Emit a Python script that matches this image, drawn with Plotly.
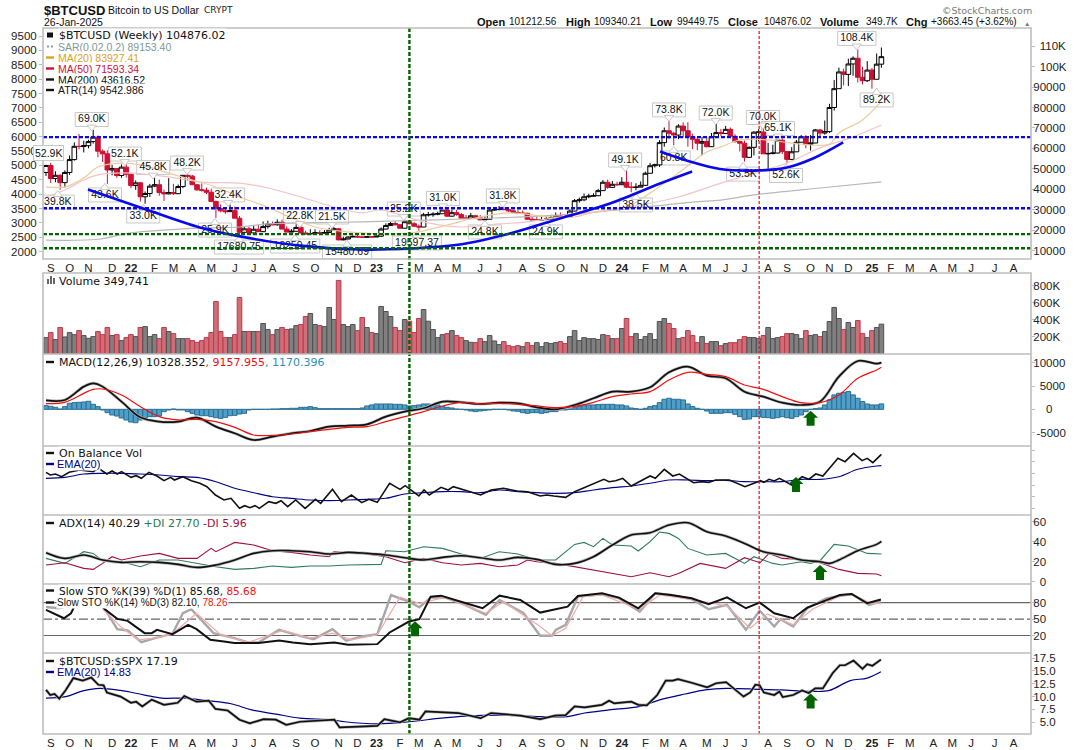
import plotly.graph_objects as go

# --- weekly candles, $K (week 0 ends 2021-09-05, week 177 ends 2025-01-26) ---
opens = [
    48.2,51.6,45.2,46.8,43.2,48.2,54.5,61.0,60.9,61.3,
    63.3,65.5,58.6,57.3,49.4,50.1,46.7,50.8,47.3,41.8,
    43.1,36.3,37.9,41.5,42.2,38.4,37.7,38.4,37.8,41.3,
    46.8,46.4,42.2,39.7,39.5,38.5,34.0,30.5,29.4,29.0,
    29.5,25.8,18.9,20.6,18.6,20.4,19.2,21.7,23.0,22.6,
    23.8,20.5,19.0,19.4,21.3,18.6,18.1,18.3,18.7,18.5,
    18.8,20.0,20.6,15.2,15.6,16.6,16.9,16.6,16.5,16.7,
    16.6,17.0,20.5,22.2,23.2,22.6,20.9,24.1,23.1,21.9,
    21.5,27.5,27.5,27.8,28.0,29.8,26.8,28.5,27.6,25.8,
    25.8,27.0,26.0,25.0,25.3,29.8,30.0,30.1,30.0,29.4,
    28.6,28.2,28.2,25.3,25.0,25.0,25.1,25.4,26.0,26.9,
    26.6,26.5,29.3,34.4,34.8,36.3,36.6,36.8,39.3,43.4,
    40.9,42.4,42.2,43.4,41.0,40.9,41.0,41.9,47.8,51.5,
    51.9,62.8,68.6,67.4,66.5,70.9,68.6,65.7,64.4,62.5,
    63.3,60.8,65.7,67.7,67.3,69.3,65.9,63.3,62.5,55.6,
    60.5,67.9,68.0,57.3,57.5,57.7,64.0,58.4,54.6,58.3,
    63.0,65.7,62.0,62.6,69.0,67.5,68.2,80.0,89.2,97.4,
    96.2,101.3,104.1,94.8,93.1,98.3,93.8,101.2]
highs = [
    52.0,52.9,48.8,47.3,49.2,56.5,62.9,67.0,63.7,64.2,
    69.0,66.3,59.5,59.0,51.9,50.2,52.1,52.1,47.6,44.3,
    43.5,38.9,42.6,45.8,44.7,39.8,45.4,42.6,42.3,46.9,
    48.2,47.0,42.4,42.9,40.8,40.0,34.4,32.6,30.6,32.4,
    31.5,26.9,21.9,21.6,22.5,22.7,24.2,24.6,24.2,25.2,
    25.1,21.8,20.5,22.8,22.8,19.7,20.4,20.4,19.9,20.0,
    21.1,21.5,20.9,16.8,17.0,17.4,18.4,16.9,17.0,16.8,
    17.3,21.3,23.3,23.9,24.2,23.0,25.2,24.5,23.9,22.7,
    28.4,28.9,28.7,29.0,31.0,30.4,29.9,29.9,28.3,27.4,
    28.4,27.4,27.3,26.8,30.9,31.3,31.8,31.5,30.3,30.0,
    29.9,29.6,28.5,26.9,26.6,26.6,26.8,27.4,28.6,28.6,
    27.9,30.2,35.2,35.9,37.9,37.8,38.0,40.2,44.5,44.7,
    44.0,43.7,45.9,49.1,43.5,42.9,43.8,48.6,52.9,52.5,
    64.0,70.2,73.8,68.1,71.8,72.7,72.8,67.2,65.2,65.5,
    65.5,67.5,72.0,69.5,71.0,70.2,66.9,63.9,63.8,60.9,
    68.4,69.4,70.0,62.7,61.8,65.1,65.0,58.7,60.6,64.1,
    66.5,66.5,66.5,69.5,69.5,73.6,81.8,93.4,99.5,99.0,
    103.9,105.0,108.4,99.9,102.7,99.3,106.4,109.34]
lows = [
    46.5,43.0,43.4,39.8,40.8,47.0,54.0,59.5,58.0,60.0,
    62.3,55.6,53.3,42.6,46.8,45.6,45.6,45.7,40.5,39.7,
    34.0,32.9,36.2,41.0,36.8,34.3,37.5,37.2,37.6,40.5,
    44.2,42.0,39.2,38.8,37.6,33.7,25.9,28.7,28.0,28.9,
    25.8,17.6,18.7,18.6,18.5,19.2,19.6,20.7,22.4,22.1,
    20.4,18.9,19.0,19.4,18.3,18.1,18.0,18.3,18.2,18.3,
    18.6,19.9,15.0,15.0,15.5,16.5,16.3,16.3,16.3,16.5,
    16.6,16.6,20.4,22.1,22.3,20.9,20.9,22.8,21.6,19.6,
    21.4,26.6,26.5,27.2,28.0,26.6,26.6,27.0,25.8,25.7,
    25.8,25.9,25.0,24.8,25.3,29.6,29.7,29.9,29.0,28.4,
    28.0,27.9,25.2,24.9,24.9,24.9,25.0,25.3,25.9,26.5,
    26.3,26.5,29.2,33.4,34.1,35.6,36.4,36.7,39.3,40.2,
    40.6,41.6,42.0,40.5,38.5,39.5,41.0,41.6,47.8,50.6,
    50.9,60.8,64.5,61.5,64.5,65.3,60.8,59.6,59.1,56.6,
    60.5,60.7,65.7,66.0,67.2,65.5,62.8,58.5,53.5,55.4,
    56.5,63.5,57.3,49.0,57.0,57.6,57.2,52.6,54.3,58.3,
    63.0,60.0,58.9,62.5,66.0,66.7,67.5,78.5,89.2,90.8,
    90.5,95.5,92.3,91.3,92.5,89.2,93.8,99.45]
closes = [
    51.6,45.2,46.8,43.2,48.2,54.5,61.0,60.9,61.3,63.3,
    65.5,58.6,57.3,49.4,50.1,46.7,50.8,47.3,41.8,43.1,
    36.3,37.9,41.5,42.2,38.4,37.7,38.4,37.8,41.3,46.8,
    46.4,42.2,39.7,39.5,38.5,34.0,30.5,29.4,29.0,29.5,
    25.8,18.9,20.6,18.6,20.4,19.2,21.7,23.0,22.6,23.8,
    20.5,19.0,19.4,21.3,18.6,18.1,18.3,18.7,18.5,18.8,
    20.0,20.6,15.2,15.6,16.6,16.9,16.6,16.5,16.7,16.6,
    17.0,20.5,22.2,23.2,22.6,20.9,24.1,23.1,21.9,21.5,
    27.5,27.5,27.8,28.0,29.8,26.8,28.5,27.6,25.8,25.8,
    27.0,26.0,25.0,25.3,29.8,30.0,30.1,30.0,29.4,28.6,
    28.2,28.2,25.3,25.0,25.0,25.1,25.4,26.0,26.9,26.6,
    26.5,29.3,34.4,34.8,36.3,36.6,36.8,39.3,43.4,40.9,
    42.4,42.2,43.4,41.0,40.9,41.0,41.9,47.8,51.5,51.9,
    62.8,68.6,67.4,66.5,70.9,68.6,65.7,64.4,62.5,63.3,
    60.8,65.7,67.7,67.3,69.3,65.9,63.3,62.5,55.6,60.5,
    67.9,68.0,57.3,57.5,57.7,64.0,58.4,54.6,58.3,63.0,
    65.7,62.0,62.6,69.0,67.5,68.2,80.0,89.2,97.4,96.2,
    101.3,104.1,94.8,93.1,98.3,93.8,101.2,104.876]
weeks = list(range(len(closes)))

# --- overlays on the price panel ---
ma20_x = [0,4,8,11,16,20,26,31,36,41,47,52,57,64,67,74,79,85,91,98,107,112,116,123,128,134,140,143,147,153,158,166,168,173,177]
ma20 = [41.1,41.1,45.5,50.9,52.8,51.9,47.9,44.5,41.1,36.2,31.3,25.9,21.5,19.1,18.6,18.1,19.1,22.5,25.9,28.4,26.4,26.4,28.8,31.3,38.1,47.9,58.2,60.7,64.1,64.1,62.6,62.1,67.5,73.9,83.0]
ma50_x = [0,4,8,11,18,26,33,41,47,54,61,67,71,81,88,96,102,109,116,126,134,143,151,157,164,171,177]
ma50 = [36.2,39.6,44.5,47.0,47.9,46.0,43.5,43.0,40.6,36.2,31.3,28.4,29.8,23.5,21.5,23.0,24.0,26.4,28.8,32.3,36.2,43.0,48.4,52.8,60.2,65.6,71.4]
ma200_x = [0,11,18,33,41,47,54,67,81,95,109,123,137,143,150,164,177]
ma200 = [15.1,15.5,18.6,21.0,21.5,23.0,23.5,24.0,24.9,25.9,27.4,30.3,33.7,34.7,37.2,40.6,43.6]

bowl1_x = [8.9,20.6,32.6,41.1,53.8,66.5,77.1,87.7,98.3,108.9,119.5,130.1,136.9]
bowl1 = [39.9,30.6,21.3,16.9,12.4,10.5,11.0,12.9,18.3,25.7,33.0,42.8,48.7]
bowl2_x = [130.1,136.4,142.8,151.3,157.0,162.5,168.9]
bowl2 = [58.5,53.6,49.9,49.2,50.6,55.0,62.9]

blue_levels = [65.5, 30.7]
green_levels = [18.0, 11.1]
green_vline = 77
red_vline = 151.1

# high/low call-outs
label_text = ["39.8K","69.0K","52.1K","43.6K","45.8K","33.0K","48.2K","32.4K","25.9K","22.8K","21.5K",
              "17680.75","18259.45","15480.69","25.2K","19597.37","31.0K","24.8K","31.8K","24.9K","49.1K",
              "38.5K","73.8K","60.8K","72.0K","70.0K","65.1K","53.5K","52.6K","108.4K","89.2K"]
label_x = [2.5,9.7,16.7,12.5,22.7,20.6,29.9,38.6,35.8,53.8,60.6,40.9,52.8,63.8,75.8,78.6,84.1,93,96.8,105.9,
           122.7,125,132,133,141.9,151.9,155.1,147.7,156.8,171.8,176]
label_y = [33.7,74.1,57.2,37.2,50.6,26.9,52.8,37.2,20,26.9,26.4,11.7,12.2,9.3,30.3,13.7,35.5,19.1,36.7,19.1,
           54.3,32.3,78.8,55.3,77.3,75.1,69.7,47.4,46.7,113.8,83.7]
label_high = [0,1,1,0,1,0,1,1,0,1,1,0,0,0,1,0,1,0,1,0,1,0,1,0,1,1,1,0,0,1,0]

# --- volume, K ---
volume = [
    192,251,169,310,200,251,227,274,216,184,
    204,263,227,310,216,227,157,192,227,204,
    310,321,204,227,180,310,263,239,180,180,
    180,157,137,157,192,251,615,263,192,192,
    227,662,263,263,263,263,357,286,227,286,
    310,286,294,333,345,439,474,345,333,321,
    545,404,862,345,321,345,274,427,310,251,
    239,557,498,439,310,274,404,384,251,416,
    521,384,286,192,227,239,274,216,192,157,
    137,133,180,145,216,153,110,145,98,86,
    98,86,133,98,133,86,133,122,133,145,
    122,204,274,157,192,180,180,169,227,216,
    180,180,298,416,204,239,169,204,239,169,
    380,416,357,298,180,192,274,216,133,204,
    122,145,145,98,122,133,133,169,204,192,
    192,180,216,310,180,192,204,239,239,227,
    180,274,216,227,204,263,380,545,416,286,
    368,310,392,239,192,274,310,350]

# --- MACD ---
macd_x = [0,4,8,10,12,16,20,24,28,32,36,40,44,48,52,56,60,64,68,72,76,80,84,88,92,96,100,104,108,112,116,120,124,128,132,136,140,144,148,152,156,160,164,168,172,176,177]
macd = [1940,2010,4880,5590,4880,1650,-1720,-2650,-2650,-1790,-3730,-5160,-6600,-5880,-5160,-4660,-3730,-3510,-3230,-1580,-500,220,1650,1510,1150,1430,1290,430,0,930,2370,3800,3800,4730,7960,9180,7240,6670,3800,2720,1430,930,1650,7030,10400,9820,10040]
macd_signal = [1220,1510,3440,4300,4370,3080,570,-1580,-2290,-2150,-2650,-3870,-5520,-5590,-5310,-4800,-4300,-3870,-3730,-2650,-1580,-500,720,1510,1150,1290,1080,720,360,650,1510,2720,3300,3800,6310,7960,7530,7030,5230,4300,2720,1430,1430,3080,6670,8460,9030]
macd_hist = [
    790,650,430,70,580,1300,1440,1510,1580,1730,
    1080,580,-140,-720,-1220,-1440,-1870,-2300,-2740,-2880,
    -2300,-1800,-1580,-1580,-1440,-500,-140,70,-140,-140,
    -500,-860,-1220,-1370,-1370,-1580,-1800,-1940,-1730,-1370,
    -1300,-1010,-860,-140,0,0,0,0,70,70,
    140,140,220,220,430,430,580,360,140,140,
    140,140,140,140,140,140,140,290,720,940,
    1150,1150,1150,1150,1080,1080,940,720,790,940,
    1150,1150,940,940,580,430,290,70,0,-140,
    -360,-500,-360,-220,-140,0,0,0,-140,-360,
    -430,-720,-860,-720,-720,-860,-720,-500,-500,-140,
    -140,70,360,580,790,940,940,1010,1080,1080,
    1080,940,940,720,290,140,0,220,580,790,
    1440,2160,2380,2160,2160,2020,1150,580,220,0,
    -360,-860,-860,-860,-720,-720,-1080,-1580,-2160,-2090,
    -1580,-1580,-1730,-1800,-1940,-1800,-1580,-1800,-1940,-1580,
    -1220,-500,0,140,290,940,2020,3100,3460,3600,
    3820,3100,2380,1660,1150,940,940,1170]

# --- on balance volume, unlabelled scale ---
obv_x = [0,.9,2,3.3,4.9,7.1,10,11.1,12.9,14,15.1,16,18,19.1,20.2,21.8,23.5,25,26.4,27.2,29,30.8,32.6,34.1,35.9,37.7,39.2,41,42.1,43.2,44.3,45.2,47.2,48.7,49.8,51.2,52.9,54.9,57.1,58.2,60.7,62.6,64.7,66.9,68.4,70.2,72.8,75,76.1,79,80.1,81.2,83.7,85.2,86.3,89.6,92.1,94.3,96.9,99.8,102,104.7,106.1,107.6,110.1,112,118.2,119.3,120.7,122.2,124,128,129.1,131,132.8,134.2,137.2,139,140.4,141.9,144.8,148.1,151.4,152.1,153.2,154.3,155.4,158,160.2,161.6,163.1,164.6,167.8,169.3,171.1,172.9,174,175.2,177]
obv = [128,120,123,115,128,135,130,140,123,132,123,130,113,118,110,128,117,103,113,105,115,103,95,85,60,45,50,20,28,22,28,20,40,35,43,25,45,20,47,35,77,40,60,37,47,38,95,77,88,57,75,60,83,75,85,70,60,75,80,72,70,57,60,57,53,70,107,100,103,110,87,117,110,137,117,123,97,100,98,105,105,85,103,98,107,102,110,90,115,107,123,117,170,160,185,163,170,157,182]
obv_ema_x = [0,4,8,12,16,20,24,28,32,36,40,44,48,52,56,60,64,68,72,76,80,84,88,92,96,100,104,108,112,116,120,124,128,132,136,140,144,148,152,156,160,164,168,172,176,177]
obv_ema = [110,113,123,125,125,123,120,115,113,100,80,67,55,50,45,43,45,47,50,63,67,70,70,67,75,70,67,65,67,75,82,87,95,105,105,103,104,100,100,100,107,107,115,137,147,148]

# --- ADX ---
adx_x = [0,4,8,12,16,20,24,28,32,36,40,44,48,52,56,60,64,68,72,76,80,84,88,92,96,100,104,108,112,116,120,124,128,132,136,140,144,148,152,156,160,164,166,168,172,176,177]
adx = [29,23.3,26.7,21.7,19.3,20,19.3,17.3,14.3,16.7,21.7,28.3,31,31,30,27.7,29.3,28.3,26.7,24,21.7,24.3,26,24,21.7,24.3,22.3,17.3,18.3,25,36.7,46.7,49,56.7,59,50,45.7,38.3,30,26.7,21.7,20,18.3,21.7,31,37.3,40.3]
plus_di_x = [0,4,8,10,12,16,20,24,28,32,36,40,44,48,52,56,60,64,68,71,72,76,80,84,88,92,96,100,104,108,112,114,116,118,120,124,125.5,128,130,132,134,136,140,144,148,150,152,154,156,160,162,164,167,170,174,177]
plus_di = [23.3,18.3,30,28.3,21,20,15,21.7,21.7,18.3,15,12.3,13.3,15.7,14.3,15.7,15.7,16.7,16.7,17.3,31,30,35,33.3,27.7,23.3,30,27.7,21.7,21.7,37.3,39.3,35,43.3,36.7,35.7,30.7,40,49.7,48.3,43.3,33.3,26.7,28.3,18.3,25,21.7,18.3,16.7,20,18.3,21,37.3,35.7,28.3,27.7]
minus_di_x = [0,4,8,10,12,14,16,20,24,28,32,35,36,40,44,48,52,56,60,61,64,68,72,76,80,84,88,92,96,100,102,104,108,112,116,120,124,128,132,134,136,138.6,144,148,151.3,153.2,156,160,164,168,172,176,177]
minus_di = [16.7,19,13.3,12.3,18.3,25,21.7,25.7,28.3,23.3,23.3,33.3,30,39.3,36.7,31,29.3,26.7,25,30,29,27.7,25,19,23.3,19,16.7,18.3,15,16.7,21.7,20,18.3,15,11.7,8.3,5,9,5,8.3,12.3,18.3,13.3,24,19,28.3,23.3,22.3,19,12.3,8.3,7.7,6]

# --- slow stochastics ---
sto39_x = [0,2.3,3.8,5.3,6,8,10,12.2,15.1,17.3,19.5,20.9,22.4,23.5,26.8,30.1,31.9,34.8,37.7,39.9,45,49.4,52.3,56,61.1,64,70.2,72.8,76.9,79.1,81.5,83.7,87.4,92.5,96.1,100.5,104.7,109,110.5,112.7,117.8,121.4,125.5,129.1,132.4,136.8,140.4,144.3,148.3,151.2,154.3,158.3,161.3,168.2,170.7,174,176.9]
sto39 = [66.7,57.6,51.5,60.6,72.7,92,93,69.7,50.3,46.7,33.3,24.2,24.2,30.3,22.4,39.4,31.5,12.1,9.1,6.1,6.1,10.9,7.3,4.2,7.3,3,4.2,25.5,45.5,49.7,90.9,92.7,83,69.7,92.7,84.8,61.8,70.9,72.7,92.1,97,89.1,69.7,97,93.9,87.9,77,89.7,69.7,80,60.6,51.5,70.9,93.9,95.8,78.8,85.7]
sto14_x = [0,2.7,4.2,6,10,12.2,15.1,17.3,20.2,23.1,26.8,29,30.8,35.5,39.9,42.8,45,49.4,53.8,56.7,60.7,63.6,66.9,70.2,73.1,76.9,79.1,81.5,84.5,88.8,93.2,96.1,101.2,104.7,107.2,108,110.1,112.7,117.8,121.4,125.8,129.1,132.4,136.8,140.4,144.3,148.3,151.2,154.3,155.6,158.3,161.3,165.3,170.7,174.4,176.9]
sto14 = [72,69.7,72.7,95,98,72,31.5,29.1,7.9,15.2,23,60.6,67.9,24.2,15.2,7.3,7.3,30.3,19.4,13.3,31.5,10.3,18.2,22.4,93.9,81.8,71.5,89.1,89.7,75.8,57.6,84.8,60.6,19.4,19.4,30.3,39.4,90.9,95.1,87.9,63.6,97,93.9,86.7,67.9,75.8,30.3,65.5,36.4,49.7,36.4,69.7,87.9,95.8,75.8,82.1]
sto14_d_x = [12.2,15.8,19.5,23.1,26.8,31.9,37,42.8,50.2,56,60.7,64.7,70.2,75,79.1,84.5,93.2,96.9,104.7,107.2,110.1,113.8,117.8,125.8,130,136.8,144.3,149.2,152.8,158.3,162.4,168.2,170.7,174.8,176.9]
sto14_d = [66.7,36.4,12.1,15.2,23,60.6,21.2,7.3,29.1,15.2,24.2,12.1,21.2,89.7,78.8,89.7,60.6,81.8,36.4,19.4,33.3,90.9,93.9,67.9,93.9,86,73.9,33.3,59.4,39.4,67.9,92.1,95.8,78.8,78.3]

# --- BTC / SPX ratio ---
ratio_x = [0,.9,1.8,2.8,4.2,5.8,7.8,9.6,11.1,12.2,12.9,15.8,18,19.1,20.4,22.4,25,27.9,29.3,31.9,34.5,35.9,38.5,41,43.2,46.1,48.7,50.9,53.8,61.1,62.2,70.2,71.7,75,76.9,79.1,80.4,83.7,87.4,92.1,94.3,100.5,104.7,107.9,110.1,112,114.1,117.8,119.3,120.4,124,125.5,127.3,129.5,131.3,132.8,133.9,136.8,140.1,142,144.1,147.8,149.2,150.3,151.2,152.1,154.3,155.4,156.1,158.3,160.2,161.6,163,164.6,166.7,168.2,169.3,171.1,173,174,175.1,176.9]
ratio = [11.3,10.3,10.5,9.6,11.3,13.6,13.1,13.7,12.3,12.2,10.8,10,8.8,9,8.1,9.4,8.4,8.8,10.1,9,9.2,7.6,7.3,5.5,4.8,5.6,5.5,4.5,5.1,5.5,4,4.3,5.6,5,5.8,5.5,7.1,7,6.8,5.8,6.8,6.3,5.6,6.3,6.4,8.1,7.9,8.4,9.2,8.7,9,8.4,8.3,10.3,13.1,13.1,13.4,12.7,11.8,12.6,12.8,10,10.8,12.3,12.2,10.8,10.3,11,9.9,10.3,11.2,10.7,11.6,11.6,14.6,16.1,16.1,17,15.4,16.3,16,17.19]
ratio_ema_x = [0,4.2,7.8,11.4,15.8,20.9,24.6,29.3,34.1,39.2,43.6,48.7,53.8,60.4,63.3,70.2,76.9,83.7,88.8,96.1,104.7,110.5,114.1,119.3,125.8,130.2,135.4,139.7,144.1,151.4,155.8,162.4,166,170.4,174,176.9]
ratio_ema = [9.7,10,11.1,11.6,11.2,10.3,9.7,9.7,9.2,8.6,7.4,6.6,5.8,5.5,5.1,4.7,5.1,5.8,6.2,6.4,6.1,6.1,6.8,7.4,8.1,9.4,10.5,11.3,11.6,11.4,11.3,11,11.2,13.1,13.6,14.83]

# --- axis tick labels ---
month_ticks = [1,5,9,14,18,23,27,31,35,40,44,48,53,57,62,66,70,75,79,83,87,92,96,101,105,109,114,118,122,127,131,135,140,144,148,153,157,162,166,170,175,179,183,188,192,196,201,205]
month_labels = ["S","O","N","D","<b>22</b>","F","M","A","M","J","J","A","S","O","N","D","<b>23</b>","F","M","A","M","J","J","A","S","O","N","D","<b>24</b>","F","M","A","M","J","J","A","S","O","N","D","<b>25</b>","F","M","A","M","J","J","A"]
price_ticks = [10,20,30,40,50,60,70,80,90,100,110]
price_labels = ["10000","20000","30000","40000","50000","60000","70000","80000","90000","\u00a0\u00a0100K","\u00a0\u00a0110K"]
atr_ticks = [2000,2500,3000,3500,4000,4500,5000,5500,6000,6500,7000,7500,8000,8500,9000,9500]
volume_ticks = [200,400,600,800]
volume_labels = ["200K","400K","600K","800K"]
macd_ticks = [-5000,0,5000,10000]
macd_labels = ["\u00a0-5000","\u00a0\u00a0\u00a0\u00a00","\u00a0\u00a05000","10000"]
adx_ticks = [0,20,40,60]
adx_labels = ["\u00a0\u00a00","20","40","60"]
sto_ticks = [20,50,80]
ratio_ticks = [5,7.5,10,12.5,15,17.5]
ratio_labels = ["\u00a0\u00a05.0","\u00a0\u00a07.5","10.0","12.5","15.0","17.5"]

# --- page geometry (pixels) ---
W, H = 1080, 750
LEFT, RIGHT, TOP, BOTTOM = 43, 1031, 28, 734
panels = {"y": (28, 259), "y3": (273, 354), "y4": (354, 446), "y5": (446, 515), "y6": (515, 584), "y7": (584, 653), "y8": (653, 734)}

def px(x):
    return (x - LEFT) / (RIGHT - LEFT)

def py(y):
    return (BOTTOM - y) / (BOTTOM - TOP)

def dom(name):
    a, b = panels[name]
    return [py(b), py(a)]

ARIAL = "Liberation Sans"
DEJA = "DejaVu Sans"
BLACK = "#111111"
RED = "#cc1133"
TAN = "#eccb9c"
PINK = "#f3c3c6"
GREY = "#b8b8b8"
BLUE = "#0808e8"
DKGREEN = "#006400"
NAVY = "#000088"
BORDER = "#bdbdbd"

fig = go.Figure()

def line(x, y, axis, color, width=1.0, xaxis="x", shape="linear"):
    fig.add_trace(go.Scatter(x=x, y=y, mode="lines", xaxis=xaxis, yaxis=axis,
                             line=dict(color=color, width=width, shape=shape),
                             hoverinfo="skip"))

# left hand ATR scale has no visible line, the trace only keeps the axis alive
fig.add_trace(go.Scatter(x=[0, 1], y=atr_ticks[:2], mode="lines", xaxis="x2", yaxis="y2", opacity=0,
                         hoverinfo="skip"))

# price panel
line(ma200_x, ma200, "y", GREY, 1.2, "x2", "spline")
line(ma50_x, ma50, "y", PINK, 1.2, "x2", "spline")
line(ma20_x, ma20, "y", TAN, 1.2, "x2", "spline")
fig.add_trace(go.Candlestick(
    x=weeks, open=opens, high=highs, low=lows, close=closes, xaxis="x2", yaxis="y",
    whiskerwidth=0,
    increasing=dict(line=dict(color="#000000", width=1), fillcolor="#ffffff"),
    decreasing=dict(line=dict(color=RED, width=1), fillcolor=RED),
    hoverinfo="skip"))

# pointer ticks and call-out text sit under the hand drawn curves
ptr_sym = ["triangle-down" if h else "triangle-up" for h in label_high]
ptr_y = [y - 3.7 if h else y + 3.7 for y, h in zip(label_y, label_high)]
fig.add_trace(go.Scatter(x=label_x, y=ptr_y, mode="markers", xaxis="x2", yaxis="y", hoverinfo="skip",
                         marker=dict(symbol=ptr_sym, size=8, color="#ffffff", line=dict(color="#c8c8c8", width=1))))
fig.add_trace(go.Scatter(x=label_x, y=label_y, mode="text", text=label_text, xaxis="x2", yaxis="y", hoverinfo="skip",
                         textposition="middle center", textfont=dict(family=ARIAL, size=10.5, color="#111111")))
line(bowl1_x, bowl1, "y", BLUE, 2.6, "x2", "spline")
line(bowl2_x, bowl2, "y", BLUE, 2.6, "x2", "spline")

# volume
vol_fill = ["#cf6e78" if c < o else "#808080" for o, c in zip(opens, closes)]
vol_edge = ["#c0384a" if c < o else "#505050" for o, c in zip(opens, closes)]
fig.add_trace(go.Bar(x=weeks, y=volume, yaxis="y3", width=0.98, hoverinfo="skip",
                     marker=dict(color=vol_fill, line=dict(color=vol_edge, width=1))))

# macd
fig.add_trace(go.Bar(x=weeks, y=macd_hist, yaxis="y4", width=0.98, hoverinfo="skip",
                     marker=dict(color="#4f9fc8", line=dict(color="#2a6f94", width=1))))
line(macd_x, macd, "y4", GREY, 3.0, "x", "spline")
line(macd_x, macd, "y4", BLACK, 1.7, "x", "spline")
line(macd_x, macd_signal, "y4", "#f01010", 1.2, "x", "spline")

# obv
line(obv_ema_x, obv_ema, "y5", NAVY, 1.1, "x", "spline")
line(obv_x, obv, "y5", BLACK, 1.6)

# adx
line(plus_di_x, plus_di, "y6", "#2e7d5a", 1.1)
line(minus_di_x, minus_di, "y6", "#a01040", 1.1)
line(adx_x, adx, "y6", GREY, 3.0, "x", "spline")
line(adx_x, adx, "y6", BLACK, 1.6, "x", "spline")

# stochastics
line(sto14_x, sto14, "y7", "#a8a8a8", 2.4)
line(sto14_d_x, sto14_d, "y7", "#f2aaaa", 1.2)
line(sto39_x, sto39, "y7", BLACK, 2.0)

# ratio
line(ratio_ema_x, ratio_ema, "y8", NAVY, 1.2, "x", "spline")
line(ratio_x, ratio, "y8", GREY, 3.0)
line(ratio_x, ratio, "y8", BLACK, 1.7)

shapes = []
annos = []

# white call-out boxes under the traces
for t, x, y in zip(label_text, label_x, label_y):
    w = 5.4 * len(t) + 6
    shapes.append(dict(type="rect", xref="x2", yref="y", layer="below", xsizemode="pixel", ysizemode="pixel",
                       xanchor=x, yanchor=y, x0=-w / 2, x1=w / 2, y0=-7, y1=7,
                       line=dict(color="#c8c8c8", width=1), fillcolor="#ffffff"))

# horizontal levels and the two vertical markers
for lv in blue_levels:
    shapes.append(dict(type="line", xref="paper", yref="y", x0=0, x1=1, y0=lv, y1=lv, layer="above",
                       line=dict(color=BLUE, width=2.4, dash="4px,2px")))
for lv in green_levels:
    shapes.append(dict(type="line", xref="paper", yref="y", x0=0, x1=1, y0=lv, y1=lv, layer="above",
                       line=dict(color=DKGREEN, width=2.4, dash="4px,2px")))
for lv, style in zip(sto_ticks, ["solid", "dashdot", "solid"]):
    shapes.append(dict(type="line", xref="paper", yref="y7", x0=0, x1=1, y0=lv, y1=lv, layer="below",
                       line=dict(color="#666666", width=1.2, dash=style)))
shapes.append(dict(type="line", xref="x", yref="paper", x0=green_vline, x1=green_vline, y0=0, y1=1, layer="above",
                   line=dict(color=DKGREEN, width=2.4, dash="4px,2px")))
shapes.append(dict(type="line", xref="x", yref="paper", x0=red_vline, x1=red_vline, y0=0, y1=1, layer="above",
                   line=dict(color="#e01020", width=1.2, dash="3px,2px")))

# panel frames
shapes.append(dict(type="rect", xref="paper", yref="paper", x0=0, x1=1, y0=py(259), y1=py(28), layer="above",
                   line=dict(color=BORDER, width=1.6)))
shapes.append(dict(type="rect", xref="paper", yref="paper", x0=0, x1=1, y0=py(734), y1=py(273), layer="above",
                   line=dict(color=BORDER, width=1.6)))
for y in [354, 446, 515, 584, 653]:
    shapes.append(dict(type="line", xref="paper", yref="paper", x0=0, x1=1, y0=py(y), y1=py(y), layer="above",
                       line=dict(color=BORDER, width=1.6)))

def note(x, y, text, size=11, family=DEJA, color="#111111", bg="rgba(0,0,0,0)", anchor="left"):
    annos.append(dict(xref="paper", yref="paper", x=px(x), y=py(y), text=text, showarrow=False, xanchor=anchor,
                      yanchor="middle", align="left", bgcolor=bg, borderpad=0,
                      font=dict(family=family, size=size, color=color)))

def dash(x, y, color, w=8, thick=2.4):
    shapes.append(dict(type="line", xref="paper", yref="paper", x0=px(x), x1=px(x + w), y0=py(y), y1=py(y),
                       layer="above", line=dict(color=color, width=thick)))

def arrow(i, val, axis):
    # tip at (i, val), head 14 wide, stem 8 wide, 15 tall
    shapes.append(dict(type="path", xref="x", yref=axis, layer="above", xsizemode="pixel", ysizemode="pixel",
                       xanchor=i, yanchor=val, path="M 0 0 L 7.5 -7 L 4 -7 L 4 -15 L -4 -15 L -4 -7 L -7.5 -7 Z",
                       fillcolor=DKGREEN, line=dict(width=0)))

# header
note(43, 10, "<b>$BTCUSD</b>", 13, ARIAL)
note(107, 10, "Bitcoin to US Dollar", 10.5, ARIAL)
note(203, 10, "CRYPT", 9, DEJA, "#222222")
note(43, 22, "26-Jan-2025", 10.5, ARIAL)
note(941, 10, "\u00a9StockCharts.com", 9.5, DEJA, "#777777")
for x, t in zip([476, 564.5, 648.5, 727, 819, 905], ["Open", "High", "Low", "Close", "Volume", "Chg"]):
    note(x, 22, "<b>" + t + "</b>", 11, ARIAL)
for x, t in zip([508, 592.5, 676, 763, 865, 930], ["101212.56", "109340.21", "99449.75", "104876.02", "349.7K", "+3663.45 (+3.62%)"]):
    note(x, 22, t, 10, ARIAL)
note(1023, 23, "\u25b2", 6.5, ARIAL, "#777777")

# the 5500 tick sits under this box in the source, so it has to be an annotation
annos.append(dict(xref="x2", yref="y", x=0.6, y=57.7, text="52.9K", showarrow=False, xanchor="center", yanchor="middle",
                  bgcolor="#ffffff", bordercolor="#c8c8c8", borderwidth=1, borderpad=1,
                  font=dict(family=ARIAL, size=10.5, color="#111111")))

# price legend
note(58, 35, "$BTCUSD (Weekly) 104876.02", 11, DEJA, "#111111", "#ffffff")
note(57, 46.5, "SAR(0.02,0.2) 89153.40", 10.5, ARIAL, "#7d9a96", "#ffffff")
note(57, 57.5, "MA(20) 83927.41", 10.5, ARIAL, "#d9a21f", "#ffffff")
note(57, 68.5, "MA(50) 71593.34", 10.5, ARIAL, "#d0103a", "#ffffff")
note(57, 79.5, "MA(200) 43616.52", 10.5, ARIAL, "#111111", "#ffffff")
note(57, 90, "ATR(14) 9542.986", 10.5, ARIAL, "#111111", "#ffffff")
dash(47, 35, "#111111", 6, 5)
dash(47, 46.5, "#8aa5a0", 2, 2)
dash(51, 46.5, "#8aa5a0", 2, 2)
dash(46, 57.5, "#d9a21f")
dash(46, 68.5, "#d0103a")
dash(46, 79.5, "#111111")
dash(46, 90, "#111111")

# volume legend
note(58, 281, "Volume 349,741", 11)
for x, h in zip([47, 50, 53], [5, 8, 6]):
    shapes.append(dict(type="rect", xref="paper", yref="paper", x0=px(x), x1=px(x + 2), y0=py(284), y1=py(284 - h),
                       layer="above", fillcolor="#666666", line=dict(width=0)))

# macd legend
note(58, 362, 'MACD(12,26,9) 10328.352<span style="color:#f01010">, 9157.955</span><span style="color:#2a8fc0">, 1170.396</span>', 11)
dash(46, 362, "#111111")

# obv legend
note(58, 453, "On Balance Vol", 11, DEJA, "#111111", "#ffffff")
dash(46, 453, "#111111")
note(56, 464, "EMA(20)", 11, ARIAL, NAVY, "#ffffff")
dash(46, 464, NAVY)

# adx legend
note(58, 523, 'ADX(14) 40.29 <span style="color:#1f7a4f">+DI 27.70</span> <span style="color:#a01040">-DI 5.96</span>', 11)
dash(46, 523, "#111111")

# stochastics legend, the lines stay 11 px apart so the boxes do not collide
note(58, 590.5, 'Slow STO %K(39) %D(1) 85.68, <span style="color:#f01010">85.68</span>', 10.5, DEJA, "#111111", "#ffffff")
dash(46, 590.5, "#111111")
note(56, 602.5, 'Slow STO %K(14) %D(3) 82.10, <span style="color:#f01010">78.26</span>', 10, ARIAL, "#111111", "#ffffff")
dash(46, 602.5, "#111111")

# ratio legend
note(58, 661, "$BTCUSD:$SPX 17.19", 11)
dash(46, 661, "#111111")
note(56, 672, "EMA(20) 14.83", 11, ARIAL, NAVY)
dash(46, 672, NAVY)

# buy arrows
arrow(162, -290, "y4")
arrow(158.9, 114, "y5")
arrow(164, 16.7, "y6")
arrow(78.2, 46, "y7")
arrow(162, 10.6, "y8")

tick_font = dict(family=ARIAL, size=11.5, color="#222222")
x_range = [-0.636, 208.7]

def yaxis(name, rng, ticks=None, labels=None):
    cfg = dict(domain=dom(name), range=rng, anchor="x", side="right", showgrid=False, zeroline=False,
               ticks="outside", ticklen=3, tickcolor=BORDER, tickfont=tick_font, fixedrange=True,
               ticklabelstandoff=-4)
    if ticks is None:
        cfg.update(tickvals=[20, 55, 90, 125, 160, 195], showticklabels=False)
    else:
        cfg.update(tickmode="array", tickvals=ticks, ticktext=labels if labels else [str(t) for t in ticks])
    return cfg

layout_axes = dict(
    xaxis=dict(domain=[0, 1], range=x_range, anchor="y8", showgrid=False, zeroline=False, tickmode="array",
               tickvals=month_ticks, ticktext=month_labels, ticks="", tickfont=tick_font, fixedrange=True),
    xaxis2=dict(domain=[0, 1], range=x_range, anchor="y", showgrid=False, zeroline=False, tickmode="array",
                tickvals=month_ticks, ticktext=month_labels, ticks="", tickfont=tick_font, fixedrange=True,
                rangeslider=dict(visible=False)),
    xaxis3=dict(domain=[0, 1], range=x_range, anchor="y3", side="top", showgrid=False, zeroline=False,
                showticklabels=False, ticks="outside", ticklen=2, tickcolor=BORDER, tickmode="linear",
                tick0=0, dtick=1, fixedrange=True),
    yaxis=dict(yaxis("y", [5.84, 118.9], price_ticks, price_labels), anchor="x2"),
    yaxis2=dict(domain=dom("y"), range=[1746, 9778], anchor="x2", side="left", overlaying="y", showgrid=False,
                zeroline=False, tickmode="array", tickvals=atr_ticks, ticktext=[str(t) for t in atr_ticks],
                ticks="outside", ticklen=3, tickcolor=BORDER, tickfont=tick_font, fixedrange=True),
    yaxis3=yaxis("y3", [0, 949], volume_ticks, volume_labels),
    yaxis4=yaxis("y4", [-7890, 11900], macd_ticks, macd_labels),
    yaxis5=yaxis("y5", [0, 207]),
    yaxis6=yaxis("y6", [-2.3, 66.7], adx_ticks, adx_labels),
    yaxis7=yaxis("y7", [-12, 114], sto_ticks),
    yaxis8=yaxis("y8", [2.72, 18.48], ratio_ticks, ratio_labels),
)

fig.update_layout(
    width=W, height=H, margin=dict(l=LEFT, r=W - RIGHT, t=TOP, b=H - BOTTOM, autoexpand=False),
    paper_bgcolor="#ffffff", plot_bgcolor="#ffffff", showlegend=False, hovermode=False,
    barmode="overlay", boxgap=0.02, boxgroupgap=0, shapes=shapes, annotations=annos,
    **layout_axes)

fig.write_html("out.html", config={"displayModeBar": False},
               post_script="document.body.style.margin='0';document.documentElement.style.overflow='hidden';")
